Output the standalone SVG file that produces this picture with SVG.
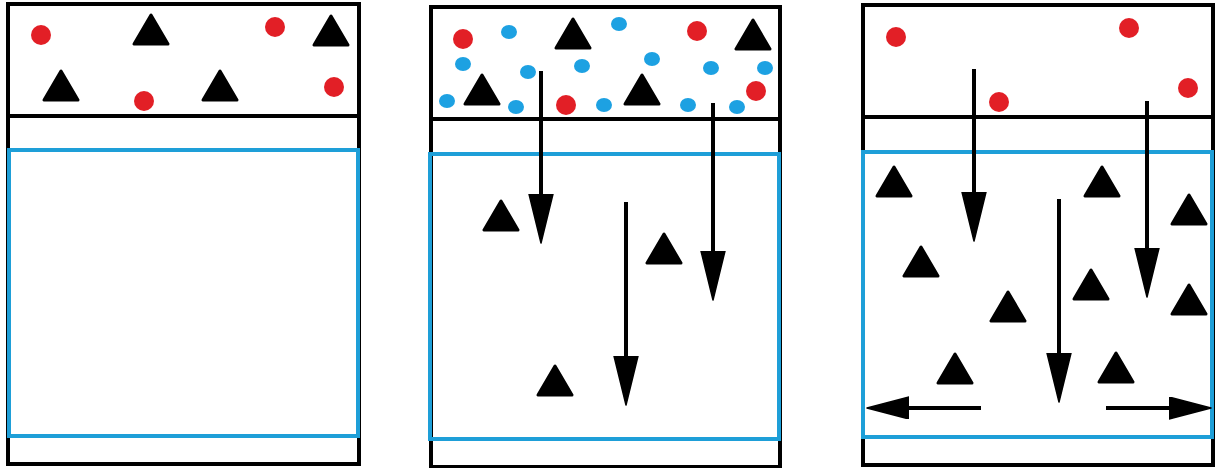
<svg xmlns="http://www.w3.org/2000/svg" width="1219" height="468" viewBox="0 0 1219 468">
<style>
.outer{fill:none;stroke:#000;stroke-width:4}
.sep{stroke:#000;stroke-width:4}
.blue{fill:none;stroke:#1e9fd8;stroke-width:4}
.red{fill:#e21f26}
.bdot{fill:#1da1e2}
.tri{fill:#000;stroke:#000;stroke-width:3;stroke-linejoin:round}
.arr{stroke:#000;stroke-width:4;fill:none}
</style>
<defs>
<path id="t" class="tri" d="M0,0 L-17,29 L17,29 Z"/>
<marker id="hv" markerUnits="userSpaceOnUse" markerWidth="52" markerHeight="28" refX="10" refY="13" orient="auto" viewBox="0 0 52 28">
<path d="M0,1 L49,13 L0,25 Z" fill="#000" stroke="#000" stroke-width="1.5" stroke-linejoin="round"/>
</marker>
<marker id="hh" markerUnits="userSpaceOnUse" markerWidth="44" markerHeight="24" refX="10" refY="11" orient="auto" viewBox="0 0 44 24">
<path d="M0,0 L42,11 L0,22 Z" fill="#000" stroke="#000" stroke-width="1.5" stroke-linejoin="round"/>
</marker>
</defs>
<rect width="1219" height="468" fill="#fff"/>

<g id="panel1">
<rect class="outer" x="8" y="4" width="351" height="460"/>
<line class="sep" x1="8" y1="116" x2="359" y2="116"/>
<rect class="blue" x="9" y="150" width="349" height="286"/>
<circle class="red" cx="41" cy="35" r="10"/>
<circle class="red" cx="275" cy="27" r="10"/>
<circle class="red" cx="144" cy="101" r="10"/>
<circle class="red" cx="334" cy="87" r="10"/>
<use href="#t" x="151" y="15"/>
<use href="#t" x="331" y="16"/>
<use href="#t" x="61" y="71"/>
<use href="#t" x="220" y="71"/>
</g>

<g id="panel2">
<rect class="outer" x="431" y="7" width="349" height="460"/>
<line class="sep" x1="431" y1="119" x2="780" y2="119"/>
<rect class="blue" x="430" y="154" width="349" height="285"/>
<circle class="red" cx="463" cy="39" r="10"/>
<circle class="red" cx="697" cy="31" r="10"/>
<circle class="red" cx="566" cy="105" r="10"/>
<circle class="red" cx="756" cy="91" r="10"/>
<ellipse class="bdot" cx="509" cy="32" rx="8" ry="7"/>
<ellipse class="bdot" cx="619" cy="24" rx="8" ry="7"/>
<ellipse class="bdot" cx="463" cy="64" rx="8" ry="7"/>
<ellipse class="bdot" cx="528" cy="72" rx="8" ry="7"/>
<ellipse class="bdot" cx="582" cy="66" rx="8" ry="7"/>
<ellipse class="bdot" cx="652" cy="59" rx="8" ry="7"/>
<ellipse class="bdot" cx="711" cy="68" rx="8" ry="7"/>
<ellipse class="bdot" cx="765" cy="68" rx="8" ry="7"/>
<ellipse class="bdot" cx="447" cy="101" rx="8" ry="7"/>
<ellipse class="bdot" cx="516" cy="107" rx="8" ry="7"/>
<ellipse class="bdot" cx="604" cy="105" rx="8" ry="7"/>
<ellipse class="bdot" cx="688" cy="105" rx="8" ry="7"/>
<ellipse class="bdot" cx="737" cy="107" rx="8" ry="7"/>
<use href="#t" x="573" y="19"/>
<use href="#t" x="753" y="20"/>
<use href="#t" x="482" y="75"/>
<use href="#t" x="642" y="75"/>
<use href="#t" x="501" y="201"/>
<use href="#t" x="664" y="234"/>
<use href="#t" x="555" y="366"/>
</g>

<g id="panel3">
<rect class="outer" x="863" y="5" width="350" height="460"/>
<line class="sep" x1="863" y1="117" x2="1213" y2="117"/>
<rect class="blue" x="863" y="152" width="349" height="285"/>
<circle class="red" cx="896" cy="37" r="10"/>
<circle class="red" cx="1129" cy="28" r="10"/>
<circle class="red" cx="999" cy="102" r="10"/>
<circle class="red" cx="1188" cy="88" r="10"/>
<use href="#t" x="894" y="167"/>
<use href="#t" x="1102" y="167"/>
<use href="#t" x="1189" y="195"/>
<use href="#t" x="921" y="247"/>
<use href="#t" x="1091" y="270"/>
<use href="#t" x="1189" y="285"/>
<use href="#t" x="1008" y="292"/>
<use href="#t" x="955" y="354"/>
<use href="#t" x="1116" y="353"/>
</g>

<g id="connectors">
<line class="arr" x1="541" y1="71" x2="541" y2="204" marker-end="url(#hv)"/>
<line class="arr" x1="713" y1="103" x2="713" y2="261" marker-end="url(#hv)"/>
<line class="arr" x1="626" y1="202" x2="626" y2="366" marker-end="url(#hv)"/>
<line class="arr" x1="974" y1="69" x2="974" y2="202" marker-end="url(#hv)"/>
<line class="arr" x1="1147" y1="101" x2="1147" y2="258" marker-end="url(#hv)"/>
<line class="arr" x1="1059" y1="199" x2="1059" y2="363" marker-end="url(#hv)"/>
<line class="arr" x1="981" y1="408" x2="899" y2="408" marker-end="url(#hh)"/>
<line class="arr" x1="1106" y1="408" x2="1179" y2="408" marker-end="url(#hh)"/>
</g>
</svg>
